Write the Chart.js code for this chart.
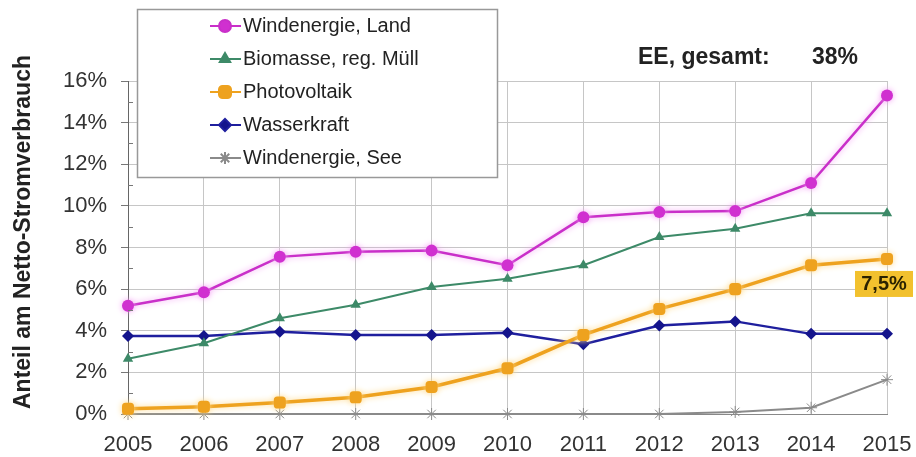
<!DOCTYPE html>
<html>
<head>
<meta charset="utf-8">
<script src="https://cdn.jsdelivr.net/npm/chart.js@4/dist/chart.umd.min.js"></script>
<style>
  html, body { margin: 0; padding: 0; background: #fff; }
  #wrap { width: 916px; height: 457px; }
</style>
</head>
<body>
<div id="wrap"><canvas id="eeChart" width="916" height="457"></canvas></div>
<script>
// Jahre und Anteile am Netto-Stromverbrauch (in %)
const years = ["2005", "2006", "2007", "2008", "2009", "2010", "2011", "2012", "2013", "2014", "2015"];
const windLand = [5.2, 5.85, 7.55, 7.8, 7.85, 7.15, 9.45, 9.7, 9.75, 11.1, 15.3];
const biomasse = [2.65, 3.4, 4.6, 5.25, 6.1, 6.5, 7.15, 8.5, 8.9, 9.65, 9.65];
const photovoltaik = [0.25, 0.35, 0.55, 0.8, 1.3, 2.2, 3.8, 5.05, 6.0, 7.15, 7.45];
const wasserkraft = [3.75, 3.75, 3.95, 3.8, 3.8, 3.9, 3.35, 4.25, 4.45, 3.85, 3.85];
const windSee = [0, 0, 0, 0, 0, 0, 0, 0, 0.1, 0.3, 1.65];
const yTicks = [0, 2, 4, 6, 8, 10, 12, 14, 16];
const yTitle = "Anteil am Netto-Stromverbrauch";
const totalLabel = "EE, gesamt:";
const totalValue = "38%";
const pvLabel = "7,5%";

Chart.defaults.font.family = "'Liberation Sans', Arial, sans-serif";
Chart.defaults.color = "#333";

// Legendenkasten, Achsentitel, Zusatztexte, kleine Teilstriche
const extras = {
  id: "extras",
  beforeDatasetDraw(chart, args) {
    const ds = chart.data.datasets[args.index];
    chart.ctx.save();
    if (ds.glow) {
      chart.ctx.shadowColor = ds.glow;
      chart.ctx.shadowBlur = 6;
    }
  },
  afterDatasetDraw(chart) {
    chart.ctx.restore();
  },
  afterDraw(chart) {
    const ctx = chart.ctx;
    const y = chart.scales.y;
    const x = chart.scales.x;

    // minor ticks at odd percent values
    ctx.save();
    ctx.strokeStyle = "#777";
    ctx.lineWidth = 1;
    for (let v = 1; v < 16; v += 2) {
      const py = Math.round(y.getPixelForValue(v)) + 0.5;
      ctx.beginPath();
      ctx.moveTo(x.left, py);
      ctx.lineTo(x.left + 5, py);
      ctx.stroke();
    }
    ctx.restore();

    // y axis title (sits a bit above the axis centre)
    ctx.save();
    ctx.translate(24, 232);
    ctx.rotate(-Math.PI / 2);
    ctx.fillStyle = "#222";
    ctx.font = "bold 23px 'Liberation Sans', Arial, sans-serif";
    ctx.textAlign = "center";
    ctx.textBaseline = "middle";
    ctx.fillText(yTitle, 0, 0);
    ctx.restore();

    // legend box
    ctx.save();
    ctx.fillStyle = "#fff";
    ctx.fillRect(137, 9, 360, 168);
    ctx.strokeStyle = "#999";
    ctx.lineWidth = 1.5;
    ctx.strokeRect(137.5, 9.5, 360, 168);
    chart.data.datasets.forEach((ds, i) => {
      const ry = 26 + i * 33;
      ctx.strokeStyle = ds.borderColor;
      ctx.lineWidth = 2;
      ctx.beginPath();
      ctx.moveTo(210, ry);
      ctx.lineTo(241, ry);
      ctx.stroke();
      ctx.fillStyle = ds.backgroundColor;
      Chart.helpers.drawPoint(ctx, {
        pointStyle: ds.pointStyle,
        radius: ds.pointRadius,
        rotation: 0,
        borderWidth: 1
      }, 225, ry);
      ctx.fillStyle = "#222";
      ctx.font = "20px 'Liberation Sans', Arial, sans-serif";
      ctx.textBaseline = "middle";
      ctx.textAlign = "left";
      ctx.fillText(ds.label, 243, ry);
    });
    ctx.restore();

    // total share text
    ctx.save();
    ctx.fillStyle = "#222";
    ctx.font = "bold 23px 'Liberation Sans', Arial, sans-serif";
    ctx.textBaseline = "middle";
    ctx.fillText(totalLabel, 638, 58);
    ctx.fillText(totalValue, 812, 58);
    ctx.restore();

    // value label for photovoltaics 2015
    const meta = chart.getDatasetMeta(2);
    const pt = meta.data[meta.data.length - 1];
    ctx.save();
    ctx.fillStyle = "#f2c12e";
    ctx.fillRect(pt.x - 32, pt.y + 12, 58, 26);
    ctx.fillStyle = "#2a2200";
    ctx.font = "bold 20px 'Liberation Sans', Arial, sans-serif";
    ctx.textAlign = "center";
    ctx.textBaseline = "middle";
    ctx.fillText(pvLabel, pt.x - 3, pt.y + 26);
    ctx.restore();
  }
};

const ctx = document.getElementById("eeChart").getContext("2d");
const eeChart = new Chart(ctx, {
  type: "line",
  data: {
    labels: years,
    datasets: [
      {
        label: "Windenergie, Land",
        data: windLand,
        borderColor: "#c92fc9",
        backgroundColor: "#d030d0",
        glow: "#f3a0f3",
        borderWidth: 2.5,
        pointStyle: "circle",
        pointRadius: 6,
        pointBorderWidth: 0
      },
      {
        label: "Biomasse, reg. Müll",
        data: biomasse,
        borderColor: "#3d8a68",
        backgroundColor: "#3d8a68",
        borderWidth: 2,
        pointStyle: "triangle",
        pointRadius: 6,
        pointBorderWidth: 0
      },
      {
        label: "Photovoltaik",
        data: photovoltaik,
        borderColor: "#eea21f",
        backgroundColor: "#eea21f",
        glow: "#ffd98a",
        borderWidth: 3.5,
        pointStyle: "rectRounded",
        pointRadius: 7,
        pointBorderWidth: 0
      },
      {
        label: "Wasserkraft",
        data: wasserkraft,
        borderColor: "#1f1f9e",
        backgroundColor: "#14148c",
        borderWidth: 2.5,
        pointStyle: "rectRot",
        pointRadius: 6,
        pointBorderWidth: 0
      },
      {
        label: "Windenergie, See",
        data: windSee,
        borderColor: "#8a8a8a",
        backgroundColor: "#8a8a8a",
        borderWidth: 2,
        pointStyle: "star",
        pointRadius: 6,
        pointBorderColor: "#8a8a8a",
        pointBorderWidth: 1
      }
    ]
  },
  options: {
    responsive: false,
    animation: false,
    clip: false,
    layout: { padding: { top: 81, right: 29, left: 0, bottom: 0 } },
    plugins: {
      legend: { display: false },
      tooltip: { enabled: false }
    },
    elements: { line: { tension: 0 } },
    scales: {
      x: {
        afterFit(scale) {
          scale.height = 43;
          scale.paddingLeft = 0;
          scale.paddingRight = 0;
        },
        grid: { color: "#c6c6c6", drawTicks: false },
        border: { color: "#888" },
        ticks: { padding: 18, font: { size: 22 }, color: "#333", maxRotation: 0, autoSkip: false }
      },
      y: {
        min: 0,
        max: 16,
        afterFit(scale) {
          scale.width = 128;
          scale.paddingTop = 0;
          scale.paddingBottom = 0;
        },
        afterBuildTicks(scale) { scale.ticks = yTicks.map(v => ({ value: v })); },
        grid: { color: "#c6c6c6", tickLength: 7, tickColor: "#777" },
        border: { color: "#666" },
        ticks: { padding: 14, font: { size: 22 }, color: "#333", callback: v => v + "%" }
      }
    }
  },
  plugins: [extras]
});
</script>
</body>
</html>
